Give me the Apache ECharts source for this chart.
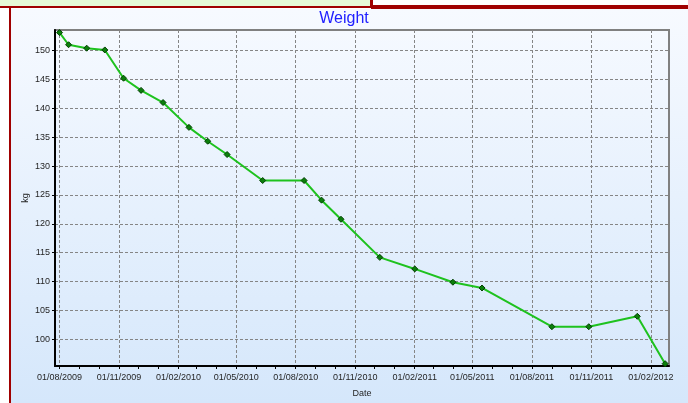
<!DOCTYPE html>
<html>
<head>
<meta charset="utf-8">
<script src="https://cdn.jsdelivr.net/npm/echarts@6/dist/echarts.min.js"></script>
<style>
  html, body { margin: 0; padding: 0; background: #fff; }
  #chart { width: 688px; height: 403px; }
</style>
</head>
<body>
<div id="chart"></div>
<script>
(function (echarts) {
    'use strict';

    // weigh-in dates (dd/mm/yyyy on the axis) and weights in kg
    const dates = [
        '2009-08-01', '2009-08-15', '2009-09-12', '2009-10-10', '2009-11-08',
        '2009-12-05', '2010-01-08', '2010-02-17', '2010-03-18', '2010-04-17',
        '2010-06-11', '2010-08-14', '2010-09-10', '2010-10-10', '2010-12-09',
        '2011-02-01', '2011-04-01', '2011-05-16', '2011-09-01', '2011-10-28',
        '2012-01-11', '2012-02-23'
    ];
    const weights = [
        153.1, 151.0, 150.4, 150.1, 145.2,
        143.1, 141.0, 136.7, 134.3, 132.0,
        127.5, 127.5, 124.1, 120.8, 114.2,
        112.2, 109.9, 108.9, 102.2, 102.2,
        104.0, 95.8
    ];

    // axis ticks
    const xTicks = [
        '2009-08-01', '2009-11-01', '2010-02-01', '2010-05-01', '2010-08-01',
        '2010-11-01', '2011-02-01', '2011-05-01', '2011-08-01', '2011-11-01',
        '2012-02-01'
    ];
    const yTicks = [100, 105, 110, 115, 120, 125, 130, 135, 140, 145, 150];
    const xRange = ['2009-07-25', '2012-02-29'];
    const yRange = [95.4, 153.55];

    // dates as UTC timestamps for a plain value axis
    const toTime = (s) => Date.parse(s + 'T00:00:00Z');
    const pad = (n) => (n < 10 ? '0' + n : '' + n);
    const fmtDate = (v) => {
        const d = new Date(v);
        return pad(d.getUTCDate()) + '/' + pad(d.getUTCMonth() + 1) + '/' + d.getUTCFullYear();
    };

    // month ticks between the quarter labels
    const monthTicks = [];
    for (let y = 2009; y <= 2012; y++) {
        for (let m = 1; m <= 12; m++) {
            const s = y + '-' + pad(m) + '-01';
            if (s >= xTicks[0] && s <= xTicks[xTicks.length - 1]) monthTicks.push(toTime(s));
        }
    }

    const font = '"Liberation Sans", Arial, sans-serif';
    const textColor = '#262626';
    const darkRed = '#a00000';
    const gridLine = {show: true, lineStyle: {color: '#858585', type: [3, 2], width: 1}};

    const chart = echarts.init(document.getElementById('chart'), null, {renderer: 'canvas'});

    const options = {
        animation: false,
        backgroundColor: '#ffffff',
        title: {
            text: 'Weight',
            left: 'center',
            top: 6,
            textStyle: {color: '#2020ff', fontSize: 16, fontWeight: 'normal', fontFamily: font}
        },
        graphic: [
            {
                type: 'rect', z: -10, silent: true,
                shape: {x: 11, y: 9, width: 677, height: 394},
                style: {
                    fill: new echarts.graphic.LinearGradient(0, 0, 0, 1, [
                        {offset: 0, color: '#f7faff'},
                        {offset: 1, color: '#d5e7fb'}
                    ])
                }
            },
            {type: 'rect', z: -10, silent: true, shape: {x: 0, y: 0, width: 371, height: 6}, style: {fill: '#e6f9d6'}},
            {type: 'rect', z: -9, silent: true, shape: {x: 0, y: 6, width: 371, height: 2}, style: {fill: darkRed}},
            {type: 'rect', z: -9, silent: true, shape: {x: 370, y: 0, width: 3, height: 8}, style: {fill: darkRed}},
            {type: 'rect', z: -9, silent: true, shape: {x: 371, y: 5, width: 317, height: 4}, style: {fill: darkRed}},
            {type: 'rect', z: -9, silent: true, shape: {x: 9, y: 8, width: 2, height: 395}, style: {fill: darkRed}}
        ],
        grid: {
            left: 55,
            top: 30,
            right: 19,
            bottom: 36,
            show: true,
            borderColor: '#808080',
            borderWidth: 2,
            backgroundColor: 'transparent'
        },
        xAxis: [
            {
                type: 'value',
                min: toTime(xRange[0]),
                max: toTime(xRange[1]),
                name: 'Date',
                nameLocation: 'middle',
                nameGap: 23,
                nameMoveOverlap: false,
                nameTextStyle: {color: textColor, fontSize: 9, fontFamily: font},
                axisLine: {show: true, onZero: false, lineStyle: {color: '#000', width: 2}},
                axisTick: {show: true, length: 3, customValues: xTicks.map(toTime), lineStyle: {color: '#000'}},
                axisLabel: {
                    customValues: xTicks.map(toTime),
                    color: textColor,
                    fontSize: 9,
                    fontFamily: font,
                    margin: 7,
                    formatter: fmtDate
                },
                splitLine: gridLine
            },
            {
                // monthly minor ticks
                type: 'value',
                min: toTime(xRange[0]),
                max: toTime(xRange[1]),
                position: 'bottom',
                axisLine: {show: false, onZero: false},
                axisLabel: {show: false},
                splitLine: {show: false},
                axisTick: {show: true, length: 3, customValues: monthTicks, lineStyle: {color: '#000'}}
            }
        ],
        yAxis: {
            type: 'value',
            min: yRange[0],
            max: yRange[1],
            name: 'kg',
            nameLocation: 'middle',
            nameGap: 25,
            nameMoveOverlap: false,
            nameTextStyle: {color: textColor, fontSize: 9, fontFamily: font},
            axisLine: {show: true, lineStyle: {color: '#000', width: 2}},
            axisTick: {show: true, length: 3, customValues: yTicks, lineStyle: {color: '#000'}},
            axisLabel: {customValues: yTicks, color: textColor, fontSize: 9, fontFamily: font, margin: 5},
            splitLine: gridLine
        },
        series: [
            {
                name: 'Weight',
                type: 'line',
                data: dates.map((d, i) => [toTime(d), weights[i]]),
                symbol: 'diamond',
                symbolSize: 6,
                lineStyle: {color: '#1ec21e', width: 2},
                itemStyle: {color: '#0b7f0b', borderColor: '#034003', borderWidth: 1}
            }
        ]
    };

    chart.setOption(options);

})(echarts);
</script>
</body>
</html>
